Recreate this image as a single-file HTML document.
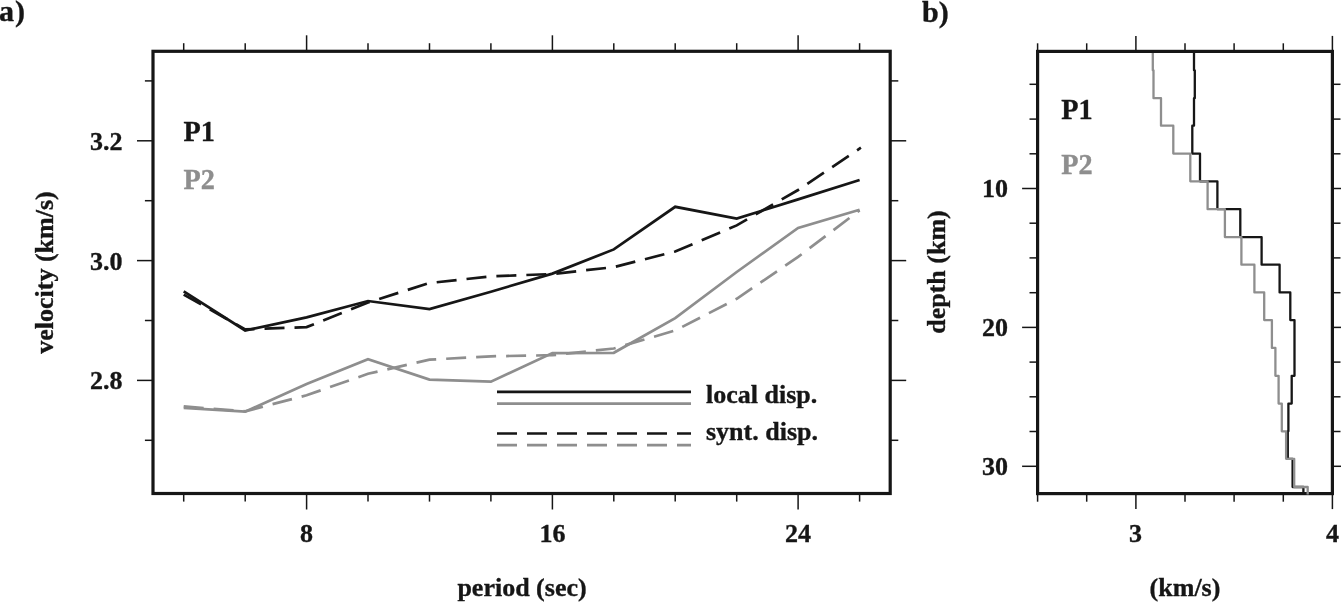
<!DOCTYPE html>
<html><head><meta charset="utf-8"><title>Dispersion curves and velocity models</title>
<style>
html,body{margin:0;padding:0;background:#fff;}
body{width:1341px;height:602px;overflow:hidden;}
svg{display:block;}
text{font-family:"Liberation Serif",serif;font-weight:bold;fill:#161616;stroke:#161616;stroke-width:0.35px;}
</style></head><body>
<svg width="1341" height="602" viewBox="0 0 1341 602">
<rect width="1341" height="602" fill="#fff"/>
<!-- panel a curves -->
<g fill="none" stroke-width="2.7" stroke-linejoin="miter">
<polyline stroke="#161616" points="183.7,291.3 245.2,330.5 306.6,317.4 368.0,301.0 429.5,309.1 490.9,291.7 552.4,273.6 613.8,249.4 675.2,206.8 736.7,218.6 798.1,199.4 859.6,180.0"/>
<polyline stroke="#161616" stroke-dasharray="20 10" points="183.7,294.6 245.2,329.4 306.6,327.1 368.0,302.5 429.5,283.0 490.9,276.4 552.4,274.0 613.8,267.1 675.2,251.5 736.7,225.4 798.1,190.0 860.9,147.7"/>
<polyline stroke="#8e8e8e" points="183.7,407.9 245.2,411.7 306.6,384.1 368.0,359.3 429.5,379.6 490.9,381.7 552.4,353.1 613.8,352.8 675.2,318.2 736.7,272.0 798.1,228.0 859.6,209.7"/>
<polyline stroke="#8e8e8e" stroke-dasharray="20 10" points="183.7,406.4 245.2,411.3 306.6,395.3 368.0,373.8 429.5,359.7 490.9,356.3 552.4,355.2 613.8,348.5 675.2,330.5 736.7,298.8 798.1,256.9 859.6,210.3"/>
<!-- legend -->
<line stroke="#161616" x1="497" y1="391.8" x2="691" y2="391.8"/>
<line stroke="#8e8e8e" x1="497" y1="403.7" x2="691" y2="403.7"/>
<line stroke="#161616" stroke-dasharray="20 10" x1="497" y1="433.5" x2="691" y2="433.5"/>
<line stroke="#8e8e8e" stroke-dasharray="20 10" x1="497" y1="445.2" x2="691" y2="445.2"/>
</g>
<!-- frames -->
<g fill="none" stroke="#161616" stroke-width="3.2">
<rect x="153" y="51.3" width="737.2" height="442.2"/>
<rect x="1037.6" y="51.4" width="294.8" height="442.2"/>
</g>
<!-- panel b -->
<g fill="none" stroke-width="2.3" stroke-linejoin="round">
<polyline stroke="#161616" points="1194.0,53.0 1194.0,70.3 1194.8,70.3 1194.8,98.2 1194.0,98.2 1194.0,125.7 1192.3,125.7 1192.3,153.6 1200.0,153.6 1200.0,181.3 1217.4,181.3 1217.4,209.2 1240.3,209.2 1240.3,237.1 1261.6,237.1 1261.6,264.7 1279.6,264.7 1279.6,292.4 1290.3,292.4 1290.3,320.1 1294.5,320.1 1294.5,347.9 1294.5,347.9 1294.5,375.8 1291.7,375.8 1291.7,403.6 1288.4,403.6 1288.4,431.3 1287.8,431.3 1287.8,458.8 1292.6,458.8 1292.6,487.0 1303.4,487.0 1303.4,494.6"/>
<polyline stroke="#8e8e8e" points="1152.8,53.0 1152.8,70.3 1153.5,70.3 1153.5,98.2 1161.0,98.2 1161.0,125.7 1173.3,125.7 1173.3,153.6 1190.3,153.6 1190.3,181.3 1207.6,181.3 1207.6,209.2 1224.9,209.2 1224.9,237.1 1241.4,237.1 1241.4,264.7 1254.4,264.7 1254.4,292.4 1264.2,292.4 1264.2,320.1 1271.9,320.1 1271.9,347.9 1275.4,347.9 1275.4,375.8 1278.6,375.8 1278.6,403.6 1281.8,403.6 1281.8,431.3 1286.1,431.3 1286.1,458.8 1294.2,458.8 1294.2,487.0 1307.7,487.0 1307.7,494.6"/>
</g>
<g stroke="#161616" stroke-width="1.5">
<line x1="183.7" y1="51.3" x2="183.7" y2="43.2"/>
<line x1="183.7" y1="493.5" x2="183.7" y2="501.6"/>
<line x1="245.2" y1="51.3" x2="245.2" y2="43.2"/>
<line x1="245.2" y1="493.5" x2="245.2" y2="501.6"/>
<line x1="306.6" y1="51.3" x2="306.6" y2="35.3"/>
<line x1="306.6" y1="493.5" x2="306.6" y2="509.5"/>
<line x1="368.0" y1="51.3" x2="368.0" y2="43.2"/>
<line x1="368.0" y1="493.5" x2="368.0" y2="501.6"/>
<line x1="429.5" y1="51.3" x2="429.5" y2="43.2"/>
<line x1="429.5" y1="493.5" x2="429.5" y2="501.6"/>
<line x1="490.9" y1="51.3" x2="490.9" y2="43.2"/>
<line x1="490.9" y1="493.5" x2="490.9" y2="501.6"/>
<line x1="552.4" y1="51.3" x2="552.4" y2="35.3"/>
<line x1="552.4" y1="493.5" x2="552.4" y2="509.5"/>
<line x1="613.8" y1="51.3" x2="613.8" y2="43.2"/>
<line x1="613.8" y1="493.5" x2="613.8" y2="501.6"/>
<line x1="675.2" y1="51.3" x2="675.2" y2="43.2"/>
<line x1="675.2" y1="493.5" x2="675.2" y2="501.6"/>
<line x1="736.7" y1="51.3" x2="736.7" y2="43.2"/>
<line x1="736.7" y1="493.5" x2="736.7" y2="501.6"/>
<line x1="798.1" y1="51.3" x2="798.1" y2="35.3"/>
<line x1="798.1" y1="493.5" x2="798.1" y2="509.5"/>
<line x1="859.6" y1="51.3" x2="859.6" y2="43.2"/>
<line x1="859.6" y1="493.5" x2="859.6" y2="501.6"/>
<line x1="153.0" y1="440.3" x2="144.9" y2="440.3"/>
<line x1="890.2" y1="440.3" x2="898.3" y2="440.3"/>
<line x1="153.0" y1="380.4" x2="137.0" y2="380.4"/>
<line x1="890.2" y1="380.4" x2="906.2" y2="380.4"/>
<line x1="153.0" y1="320.5" x2="144.9" y2="320.5"/>
<line x1="890.2" y1="320.5" x2="898.3" y2="320.5"/>
<line x1="153.0" y1="260.6" x2="137.0" y2="260.6"/>
<line x1="890.2" y1="260.6" x2="906.2" y2="260.6"/>
<line x1="153.0" y1="200.7" x2="144.9" y2="200.7"/>
<line x1="890.2" y1="200.7" x2="898.3" y2="200.7"/>
<line x1="153.0" y1="140.8" x2="137.0" y2="140.8"/>
<line x1="890.2" y1="140.8" x2="906.2" y2="140.8"/>
<line x1="153.0" y1="80.9" x2="144.9" y2="80.9"/>
<line x1="890.2" y1="80.9" x2="898.3" y2="80.9"/>
<line x1="1037.6" y1="51.4" x2="1037.6" y2="43.3"/>
<line x1="1037.6" y1="493.6" x2="1037.6" y2="501.7"/>
<line x1="1086.7" y1="51.4" x2="1086.7" y2="43.3"/>
<line x1="1086.7" y1="493.6" x2="1086.7" y2="501.7"/>
<line x1="1135.9" y1="51.4" x2="1135.9" y2="35.9"/>
<line x1="1135.9" y1="493.6" x2="1135.9" y2="509.1"/>
<line x1="1185.0" y1="51.4" x2="1185.0" y2="43.3"/>
<line x1="1185.0" y1="493.6" x2="1185.0" y2="501.7"/>
<line x1="1234.1" y1="51.4" x2="1234.1" y2="43.3"/>
<line x1="1234.1" y1="493.6" x2="1234.1" y2="501.7"/>
<line x1="1283.3" y1="51.4" x2="1283.3" y2="43.3"/>
<line x1="1283.3" y1="493.6" x2="1283.3" y2="501.7"/>
<line x1="1332.4" y1="51.4" x2="1332.4" y2="35.9"/>
<line x1="1332.4" y1="493.6" x2="1332.4" y2="509.1"/>
<line x1="1037.6" y1="84.3" x2="1029.5" y2="84.3"/>
<line x1="1332.4" y1="84.3" x2="1340.5" y2="84.3"/>
<line x1="1037.6" y1="119.1" x2="1029.5" y2="119.1"/>
<line x1="1332.4" y1="119.1" x2="1340.5" y2="119.1"/>
<line x1="1037.6" y1="153.8" x2="1029.5" y2="153.8"/>
<line x1="1332.4" y1="153.8" x2="1340.5" y2="153.8"/>
<line x1="1037.6" y1="188.5" x2="1022.1" y2="188.5"/>
<line x1="1332.4" y1="188.5" x2="1347.9" y2="188.5"/>
<line x1="1037.6" y1="223.2" x2="1029.5" y2="223.2"/>
<line x1="1332.4" y1="223.2" x2="1340.5" y2="223.2"/>
<line x1="1037.6" y1="257.9" x2="1029.5" y2="257.9"/>
<line x1="1332.4" y1="257.9" x2="1340.5" y2="257.9"/>
<line x1="1037.6" y1="292.7" x2="1029.5" y2="292.7"/>
<line x1="1332.4" y1="292.7" x2="1340.5" y2="292.7"/>
<line x1="1037.6" y1="327.4" x2="1022.1" y2="327.4"/>
<line x1="1332.4" y1="327.4" x2="1347.9" y2="327.4"/>
<line x1="1037.6" y1="362.1" x2="1029.5" y2="362.1"/>
<line x1="1332.4" y1="362.1" x2="1340.5" y2="362.1"/>
<line x1="1037.6" y1="396.8" x2="1029.5" y2="396.8"/>
<line x1="1332.4" y1="396.8" x2="1340.5" y2="396.8"/>
<line x1="1037.6" y1="431.5" x2="1029.5" y2="431.5"/>
<line x1="1332.4" y1="431.5" x2="1340.5" y2="431.5"/>
<line x1="1037.6" y1="466.3" x2="1022.1" y2="466.3"/>
<line x1="1332.4" y1="466.3" x2="1347.9" y2="466.3"/>
</g>
<!-- labels -->
<text x="-1" y="21.4" font-size="30">a<tspan dx="0.9">)</tspan></text>
<text x="922" y="21.6" font-size="30">b)</text>
<g font-size="26" text-anchor="end">
<text x="122.6" y="150">3.2</text>
<text x="122.6" y="269.5">3.0</text>
<text x="122.6" y="389.4">2.8</text>
<text x="1008" y="197">10</text>
<text x="1008" y="335.8">20</text>
<text x="1008" y="474.8">30</text>
</g>
<g font-size="26" text-anchor="middle">
<text x="306.6" y="541.7">8</text>
<text x="552.6" y="541.7">16</text>
<text x="798.1" y="541.7">24</text>
<text x="1135.5" y="541.7">3</text>
<text x="1332.6" y="541.7">4</text>
<text x="522" y="595.7">period (sec)</text>
<text x="1185" y="595.7">(km/s)</text>
<text transform="translate(53.2,272.5) rotate(-90)">velocity (km/s)</text>
<text transform="translate(945.2,272) rotate(-90)">depth (km)</text>
</g>
<g font-size="26">
<text x="706" y="403.4">local disp.</text>
<text x="706" y="440">synt. disp.</text>
</g>
<g font-size="28">
<text transform="translate(183.5,140.9) scale(1.01,1.045)">P1</text>
<text transform="translate(183.5,189) scale(1.01,1.045)" style="fill:#8e8e8e;stroke:#8e8e8e">P2</text>
<text transform="translate(1061.3,118.9) scale(1.01,1.045)">P1</text>
<text transform="translate(1061.3,174.4) scale(1.01,1.045)" style="fill:#8e8e8e;stroke:#8e8e8e">P2</text>
</g>
</svg>
</body></html>
